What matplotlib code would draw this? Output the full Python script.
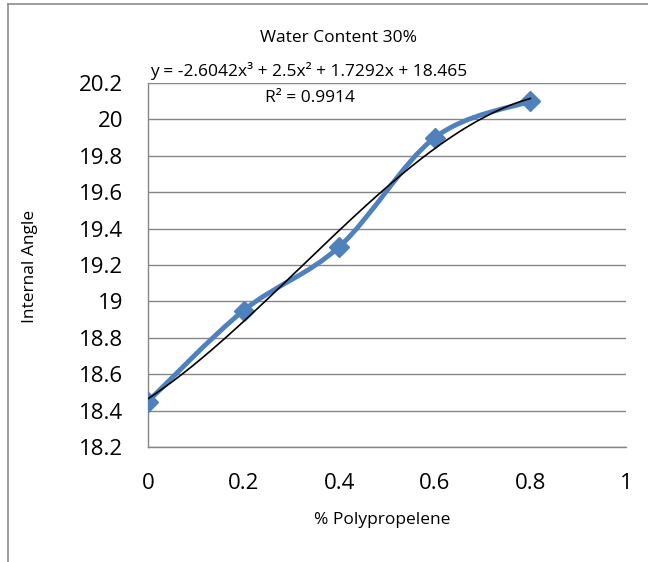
import numpy as np
import matplotlib
matplotlib.use("Agg")
import matplotlib.pyplot as plt
from matplotlib.path import Path
from matplotlib.patches import PathPatch
from matplotlib.lines import Line2D

plt.rcParams['font.family'] = ['Open Sans', 'DejaVu Sans']

# data
x_vals = [0.0, 0.2, 0.4, 0.6, 0.8]
y_vals = [18.45, 18.95, 19.30, 19.90, 20.10]
trend_coefs = [-2.6042, 2.5, 1.7292, 18.465]
x_ticks = [0, 0.2, 0.4, 0.6, 0.8, 1]
x_tick_labels = ['0', '0.2', '0.4', '0.6', '0.8', '1']
y_ticks = [18.2, 18.4, 18.6, 18.8, 19.0, 19.2, 19.4, 19.6, 19.8, 20.0, 20.2]
y_tick_labels = ['18.2', '18.4', '18.6', '18.8', '19', '19.2', '19.4', '19.6', '19.8', '20', '20.2']
title = 'Water Content 30%'
eq_text = 'y = -2.6042x³ + 2.5x² + 1.7292x + 18.465'
r2_text = 'R² = 0.9914'
xlabel = '% Polypropelene'
ylabel = 'Internal Angle'

blue = '#4F81BD'
grid_c = '#868686'

fig = plt.figure(figsize=(6.48, 5.62), dpi=100)
ax = fig.add_axes([148/648, 1-447/562, (626-148)/648, (447-83)/562])

ax.set_xlim(0, 1)
ax.set_ylim(18.2, 20.2)
ax.set_yticks(y_ticks)
ax.set_yticklabels(y_tick_labels)
ax.set_xticks(x_ticks)
ax.set_xticklabels(x_tick_labels)
ax.tick_params(axis='both', length=0, labelsize=16, colors='black')
ax.tick_params(axis='y', pad=18)
ax.tick_params(axis='x', pad=19)
ax.yaxis.grid(True, color=grid_c, linewidth=1.0)
ax.set_axisbelow(True)
for s in ['top', 'right']:
    ax.spines[s].set_visible(False)
ax.spines['left'].set_color(grid_c)
ax.spines['bottom'].set_color(grid_c)
ax.spines['left'].set_linewidth(1.0)
ax.spines['bottom'].set_linewidth(1.0)

# smoothed series via cubic Bezier path (Excel-style smoothing)
pts = np.column_stack([x_vals, y_vals])
n = len(pts)
verts = [tuple(pts[0])]
codes = [Path.MOVETO]
for i in range(n - 1):
    p0 = pts[max(i - 1, 0)]
    p1 = pts[i]
    p2 = pts[i + 1]
    p3 = pts[min(i + 2, n - 1)]
    c1 = p1 + (p2 - p0) / 6.0
    c2 = p2 - (p3 - p1) / 6.0
    verts += [tuple(c1), tuple(c2), tuple(p2)]
    codes += [Path.CURVE4] * 3
path = Path(verts, codes)
ax.add_patch(PathPatch(path, facecolor='none', edgecolor=blue, linewidth=3.5,
                       capstyle='round', joinstyle='round', zorder=3))
ax.plot(x_vals, y_vals, linestyle='none', marker='D', markersize=10,
        color=blue, zorder=4)

# trendline
xt = np.linspace(x_vals[0], x_vals[-1], 200)
ax.plot(xt, np.polyval(trend_coefs, xt), color='black', linewidth=1.2, zorder=5)

fig.text(338/648, 1-38/562, title, ha='center', va='center', fontsize=12.5)
fig.text(150/648, 1-71/562, eq_text, ha='left', va='center', fontsize=12.5)
fig.text(310/648, 1-98/562, r2_text, ha='center', va='center', fontsize=12.5)
fig.text(30/648, 1-266/562, ylabel, ha='center', va='center', rotation=90, fontsize=12.5)
fig.text(382/648, 1-520/562, xlabel, ha='center', va='center', fontsize=12.5)

# outer chart border (left and top visible)
fig.add_artist(Line2D([8/648, 8/648], [0, 1-4/562], color='#8c8c8c', linewidth=1.2, transform=fig.transFigure))
fig.add_artist(Line2D([8/648, 1], [1-4/562, 1-4/562], color='#8c8c8c', linewidth=1.2, transform=fig.transFigure))

fig.savefig('out.png', dpi=100)
